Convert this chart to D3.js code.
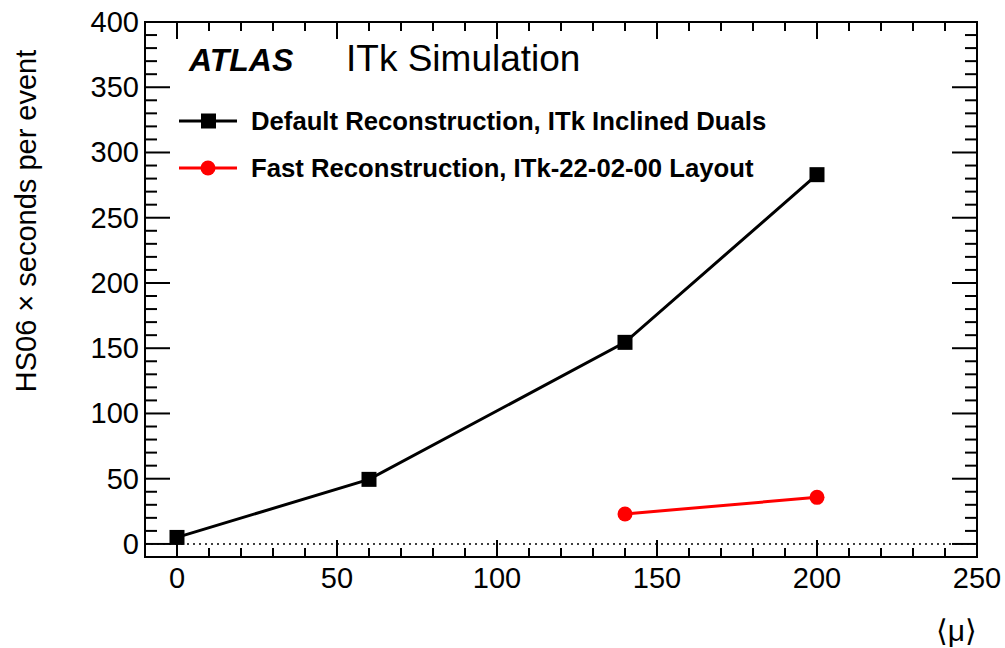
<!DOCTYPE html>
<html>
  <head>
    <script src="https://cdn.jsdelivr.net/npm/d3@7"></script>
    <style>
      body { margin: 0; background: #fff; }
      text { font-family: "Liberation Sans", Arial, sans-serif; }
    </style>
  </head>
  <body>
    <svg id="chart" width="1005" height="648"></svg>
    <script>
    // pile-up values and CPU time per event
    var defaultMu = [0, 60, 140, 200];
    var defaultTime = [5, 49.5, 154.5, 283];
    var fastMu = [140, 200];
    var fastTime = [23, 35.7];
    var xTicks = [0, 50, 100, 150, 200, 250];
    var yTicks = [0, 50, 100, 150, 200, 250, 300, 350, 400];
    var legendLabels = ["Default Reconstruction, ITk Inclined Duals", "Fast Reconstruction, ITk-22-02-00 Layout"];

    var svg = d3.select("#chart");
    var pLeft = 145, pRight = 977, pTop = 22, pBottom = 557;

    var x = d3.scaleLinear().domain([-10, 250]).range([pLeft, pRight]);
    var y = d3.scaleLinear().domain([-10, 400]).range([pBottom, pTop]);

    // frame
    svg.append("rect")
      .attr("x", pLeft).attr("y", pTop)
      .attr("width", pRight - pLeft).attr("height", pBottom - pTop)
      .attr("fill", "none").attr("stroke", "#000").attr("stroke-width", 2);

    var xMinor = d3.range(0, 251, 10);
    var yMinor = d3.range(-10, 401, 10);

    var ax = svg.append("g").attr("stroke", "#000").attr("stroke-width", 2);
    xMinor.forEach(function(v){
      var len = v % 50 === 0 ? 17 : 9;
      ax.append("line").attr("x1", x(v)).attr("x2", x(v)).attr("y1", pBottom).attr("y2", pBottom - len);
      ax.append("line").attr("x1", x(v)).attr("x2", x(v)).attr("y1", pTop).attr("y2", pTop + len);
    });
    yMinor.forEach(function(v){
      var len = v % 50 === 0 ? 25 : 12;
      ax.append("line").attr("y1", y(v)).attr("y2", y(v)).attr("x1", pLeft).attr("x2", pLeft + len);
      ax.append("line").attr("y1", y(v)).attr("y2", y(v)).attr("x1", pRight).attr("x2", pRight - len);
    });

    svg.append("g").selectAll("text").data(xTicks).enter().append("text")
      .attr("x", function(d){ return x(d); })
      .attr("y", 588)
      .attr("text-anchor", "middle")
      .attr("font-size", 29)
      .text(function(d){ return d; });

    svg.append("g").selectAll("text").data(yTicks).enter().append("text")
      .attr("x", 139)
      .attr("y", function(d){ return y(d) + 10; })
      .attr("text-anchor", "end")
      .attr("font-size", 29)
      .text(function(d){ return d; });

    // dotted zero line
    svg.append("line")
      .attr("x1", x(-10)).attr("x2", x(250))
      .attr("y1", y(0)).attr("y2", y(0))
      .attr("stroke", "#000").attr("stroke-width", 1.5)
      .attr("stroke-dasharray", "2,4");

    svg.append("text")
      .attr("transform", "translate(36," + 221 + ") rotate(-90)")
      .attr("text-anchor", "middle")
      .attr("font-size", 29)
      .text("HS06 \u00d7 seconds per event");

    svg.append("text")
      .attr("x", 977).attr("y", 641)
      .attr("text-anchor", "end")
      .attr("font-size", 30)
      .attr("font-family", "DejaVu Serif, serif")
      .text("\u27e8\u03bc\u27e9");

    var line = d3.line().x(function(d){ return x(d[0]); }).y(function(d){ return y(d[1]); });
    var blackPts = d3.zip(defaultMu, defaultTime);
    var redPts = d3.zip(fastMu, fastTime);

    svg.append("path").datum(blackPts).attr("d", line)
      .attr("fill", "none").attr("stroke", "#000").attr("stroke-width", 3);
    svg.append("g").selectAll("rect").data(blackPts).enter().append("rect")
      .attr("x", function(d){ return x(d[0]) - 7.5; })
      .attr("y", function(d){ return y(d[1]) - 7.5; })
      .attr("width", 15).attr("height", 15).attr("fill", "#000");

    svg.append("path").datum(redPts).attr("d", line)
      .attr("fill", "none").attr("stroke", "#f00").attr("stroke-width", 3);
    svg.append("g").selectAll("circle").data(redPts).enter().append("circle")
      .attr("cx", function(d){ return x(d[0]); })
      .attr("cy", function(d){ return y(d[1]); })
      .attr("r", 7.5).attr("fill", "#f00");

    // labels
    svg.append("text").attr("x", 189).attr("y", 71)
      .attr("font-size", 32).attr("font-weight", "bold").attr("font-style", "italic")
      .text("ATLAS");
    svg.append("text").attr("x", 346).attr("y", 71)
      .attr("font-size", 37)
      .text("ITk Simulation");

    // legend
    var legY = [121, 168];
    var colors = ["#000", "#f00"];
    legendLabels.forEach(function(lbl, i){
      var g = svg.append("g");
      g.append("line").attr("x1", 179).attr("x2", 237).attr("y1", legY[i]).attr("y2", legY[i])
        .attr("stroke", colors[i]).attr("stroke-width", 3);
      if (i === 0) {
        g.append("rect").attr("x", 201).attr("y", legY[i] - 7.5).attr("width", 15).attr("height", 15).attr("fill", colors[i]);
      } else {
        g.append("circle").attr("cx", 208).attr("cy", legY[i]).attr("r", 7.5).attr("fill", colors[i]);
      }
      g.append("text").attr("x", 251).attr("y", legY[i] + 9)
        .attr("font-size", 25.7).attr("font-weight", "bold")
        .text(lbl);
    });
    </script>
  </body>
</html>
